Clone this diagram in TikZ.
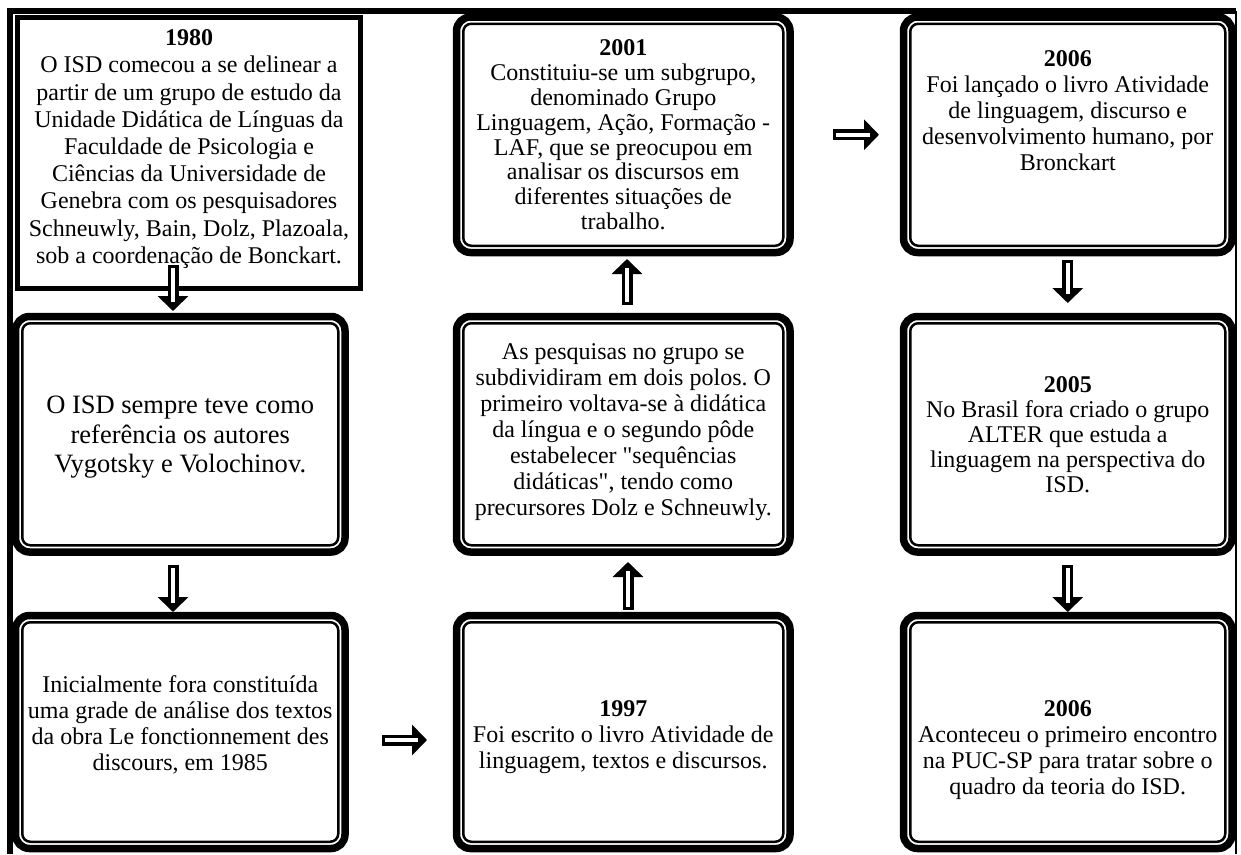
\documentclass[tikz,border=0pt]{standalone}
\usepackage{fontspec}
\setmainfont{Liberation Serif}
\newfontfamily\qfont{Liberation Serif}[Ligatures=ResetAll]
\usetikzlibrary{arrows.meta,calc}
\newcommand{\sq}{{\qfont"}}
\frenchspacing
\tikzset{
  sqbox/.style={draw, fill=white, line width=5pt, inner sep=0pt, outer sep=0pt},
  dblbox/.style={draw, fill=white, line width=7.5pt, rounded corners=14pt, inner sep=0pt, outer sep=0pt,
    path picture={\draw[line width=2.5pt, rounded corners=8pt]
      ([shift={(6.75pt,-6.75pt)}]path picture bounding box.north west) rectangle
      ([shift={(-6.75pt,6.75pt)}]path picture bounding box.south east);}},
  colw/.style={minimum width=329.5pt},
  colm/.style={minimum width=333.5pt},
  colr/.style={minimum width=328.5pt},
  rowa/.style={minimum height=235.5pt},
  rowc/.style={minimum height=233pt},
  txt/.style={align=center, font=\fontsize{24}{26}\selectfont, inner sep=0pt},
  hollow/.style={line width=11pt, -{Triangle[length=15pt,width=30pt]},
    postaction={draw=white, line width=4.5pt, -, shorten <=3pt, shorten >=9pt}}
}
\begin{document}
\frenchspacing
\begin{tikzpicture}[x=1pt,y=-1pt]
\useasboundingbox (0,0) rectangle (1241,854);
% outer frame
\draw[line width=6pt] (9.5,854) -- (9.5,11) -- (1236,11);
\draw[line width=2pt] (1236,11) -- (1236,854);

% boxes
\node[sqbox, minimum width=343pt, minimum height=271pt] (b1) at (189,153) {};
\node[dblbox, colw, rowa] (b2) at (180.25,434.25) {};
\node[dblbox, colw, rowc] (b3) at (180.25,732) {};
\node[dblbox, colm, rowa] (m1) at (623.25,134.75) {};
\node[dblbox, colm, rowa] (m2) at (623.25,434.25) {};
\node[dblbox, colm, rowc] (m3) at (623.25,732) {};
\node[dblbox, colr, rowa] (r1) at (1067.75,134.75) {};
\node[dblbox, colr, rowa] (r2) at (1067.75,434.25) {};
\node[dblbox, colr, rowc] (r3) at (1067.75,732) {};

% texts
\node[txt, font=\fontsize{24}{27.2}\selectfont] (t1) at ([yshift=4pt]b1.center) {\textbf{1980}\\O ISD comecou a se delinear a\\partir de um grupo de estudo da\\Unidade Didática de Línguas da\\Faculdade de Psicologia e\\Ciências da Universidade de\\Genebra com os pesquisadores\\Schneuwly, Bain, Dolz, Plazoala,\\sob a coordenação de Bonckart.};
\node[txt, font=\fontsize{26.5}{29.5}\selectfont] (t2) at ([yshift=-3pt]b2.center) {O ISD sempre teve como\\referência os autores\\Vygotsky e Volochinov.};
\node[txt] (t3) at ([yshift=7pt]b3.center) {Inicialmente fora constituída\\uma grade de análise dos textos\\da obra Le fonctionnement des\\discours, em 1985};
\node[txt, font=\fontsize{24}{24.9}\selectfont] (t4) at (m1.center) {\textbf{2001}\\Constituiu-se um subgrupo,\\denominado Grupo\\Linguagem, Ação, Formação -\\LAF, que se preocupou em\\analisar os discursos em\\diferentes situações de\\trabalho.};
\node[txt] (t5) at ([yshift=2pt]m2.center) {As pesquisas no grupo se\\subdividiram em dois polos. O\\primeiro voltava-se à didática\\da língua e o segundo pôde\\estabelecer \sq sequências\\didáticas\sq, tendo como\\precursores Dolz e Schneuwly.};
\node[txt] (t6) at ([yshift=-5pt]m3.center) {\textbf{1997}\\Foi escrito o livro Atividade de\\linguagem, textos e discursos.};
\node[txt] (t7) at ([yshift=24pt]r1.center) {\textbf{2006}\\Foi lançado o livro Atividade\\de linguagem, discurso e\\desenvolvimento humano, por\\Bronckart};
\node[txt, font=\fontsize{24}{25}\selectfont] (t8) at (r2.center) {\textbf{2005}\\No Brasil fora criado o grupo\\ALTER que estuda a\\linguagem na perspectiva do\\ISD.};
\node[txt] (t9) at ([yshift=-18pt]r3.center) {\textbf{2006}\\Aconteceu o primeiro encontro\\na PUC-SP para tratar sobre o\\quadro da teoria do ISD.};

% arrows
\draw[hollow] ([xshift=-16pt,yshift=23.5pt]b1.south) -- ([xshift=-7.25pt,yshift=5.5pt]b2.north);
\draw[hollow] ([xshift=-7.25pt,yshift=-13pt]b2.south) -- ([xshift=-7.25pt,yshift=3.5pt]b3.north);
\draw[hollow] ([xshift=37pt,yshift=-8pt]b3.east) -- ([xshift=-29.5pt,yshift=-8pt]m3.west);
\draw[hollow] ([xshift=4.75pt,yshift=5.5pt]m3.north) -- ([xshift=4.75pt,yshift=-10pt]m2.south);
\draw[hollow] ([xshift=3.75pt,yshift=11.5pt]m2.north) -- ([xshift=3.75pt,yshift=-6.5pt]m1.south);
\draw[hollow] ([xshift=43pt]m1.east) -- ([xshift=-24.5pt]r1.west);
\draw[hollow] ([yshift=-7.5pt]r1.south) -- ([yshift=13.5pt]r2.north);
\draw[hollow] ([yshift=-13pt]r2.south) -- ([yshift=3.5pt]r3.north);
\end{tikzpicture}
\end{document}
